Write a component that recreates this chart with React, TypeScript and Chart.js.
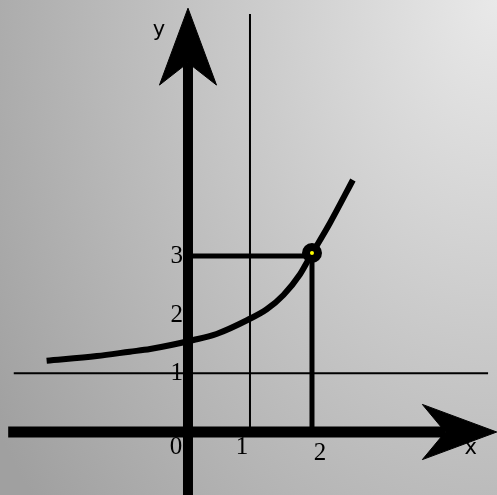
import React, { useEffect, useRef } from "react";
import { Chart, registerables } from "chart.js";

Chart.register(...registerables);

// ---- data ----
const curveX = [-2.28, -1.47, -0.94, -0.61, 0.09, 0.46, 0.96, 1.27, 1.54, 1.81, 1.94, 2.29, 2.66];
const curveY = [1.215, 1.295, 1.368, 1.414, 1.567, 1.67, 1.908, 2.09, 2.334, 2.692, 2.93, 3.56, 4.293];

const markX = [2];
const markY = [3.05];

const xTickValues = [0, 1, 2];
const xTickLabels = ["0", "1", "2"];
const yTickValues = [1, 2, 3];
const yTickLabels = ["1", "2", "3"];

const asymptoteY = 1; // thin horizontal line
const guideX = 1; // thin vertical line
const dropX = 2; // thick guide lines to the point
const dropY = 3;

const xRange = [-3.032, 4.984];
const yRange = [-1.073, 7.359];

// axis arrows (data coordinates)
const xAxisStart = -2.9;
const xArrowX = [4.15, 3.78, 4.98, 3.78, 4.15];
const xArrowY = [0, 0.47, 0, -0.47, 0];
const yAxisStart = -1.1;
const yArrowX = [0, -0.46, 0, 0.46, 0];
const yArrowY = [6.29, 5.91, 7.22, 5.91, 6.29];

const hLineRange = [-2.81, 4.84];
const vLineTop = 7.12;

// ---- style-only nudges for text ----
const xLabelNudgeX = [-12, -8, 8];
const xLabelNudgeY = [15, 15, 21];

const pts = (xs: number[], ys: number[]) => xs.map((x, i) => ({ x, y: ys[i] }));

const textPlugin = {
  id: "texts",
  afterDatasetsDraw(chart: any) {
    const ctx = chart.ctx;
    const sx = chart.scales.x;
    const sy = chart.scales.y;
    ctx.save();
    ctx.fillStyle = "#000";
    ctx.font = '25px "Liberation Serif"';
    ctx.textBaseline = "middle";
    ctx.textAlign = "center";
    xTickValues.forEach((v, i) => {
      ctx.fillText(
        xTickLabels[i],
        sx.getPixelForValue(v) + xLabelNudgeX[i],
        sy.getPixelForValue(0) + xLabelNudgeY[i]
      );
    });
    ctx.textAlign = "right";
    yTickValues.forEach((v, i) => {
      ctx.fillText(yTickLabels[i], sx.getPixelForValue(0) - 5, sy.getPixelForValue(v) + 0.5);
    });
    ctx.font = '21px "DejaVu Sans"';
    ctx.textAlign = "center";
    ctx.fillText("y", sx.getPixelForValue(0) - 29, sy.getPixelForValue(yArrowY[2]) + 22);
    ctx.fillText("x", sx.getPixelForValue(xArrowX[2]) - 26, sy.getPixelForValue(0) + 17);
    ctx.restore();
  },
};

export default function App() {
  const ref = useRef<HTMLCanvasElement | null>(null);
  useEffect(() => {
    if (!ref.current) return;
    const line = (data: any[], width: number, order: number, extra: any = {}) => ({
      data,
      showLine: true,
      borderColor: "#000",
      backgroundColor: "#000",
      borderWidth: width,
      pointRadius: 0,
      pointHoverRadius: 0,
      order,
      ...extra,
    });
    const chart = new Chart(ref.current, {
      type: "scatter",
      data: {
        datasets: [
          // point marker on top
          {
            data: pts(markX, markY),
            pointRadius: 6,
            pointHoverRadius: 6,
            pointBorderWidth: 8,
            pointBorderColor: "#000",
            pointBackgroundColor: "#ffff00",
            showLine: false,
            order: 0,
          },
          line(pts(curveX, curveY), 6, 1, { cubicInterpolationMode: "monotone" }),
          line(pts([0, dropX, dropX], [dropY, dropY, 0]), 5, 2),
          line(pts([xAxisStart, xArrowX[0]], [0, 0]), 11, 3),
          line(pts(xArrowX, xArrowY), 1, 3, { fill: "shape" }),
          line(pts([0, 0], [yAxisStart, yArrowY[0]]), 10, 3),
          line(pts(yArrowX, yArrowY), 1, 3, { fill: "shape" }),
          line(pts(hLineRange, [asymptoteY, asymptoteY]), 2, 4),
          line(pts([guideX, guideX], [0, vLineTop]), 2, 4),
        ],
      },
      options: {
        animation: false,
        responsive: false,
        maintainAspectRatio: false,
        layout: { padding: 0, autoPadding: false },
        plugins: { legend: { display: false }, tooltip: { enabled: false } },
        events: [],
        scales: {
          x: { type: "linear", min: xRange[0], max: xRange[1], display: false },
          y: { type: "linear", min: yRange[0], max: yRange[1], display: false },
        },
      },
      plugins: [textPlugin],
    });
    return () => chart.destroy();
  }, []);

  return (
    <div
      style={{
        position: "absolute",
        left: 0,
        top: 0,
        width: 497,
        height: 495,
        background:
          "radial-gradient(ellipse 120% 160% at 100% 0%, #e9e9e9 0%, #a0a0a0 100%)",
      }}
    >
      <canvas ref={ref} width={497} height={495} style={{ display: "block" }} />
    </div>
  );
}
